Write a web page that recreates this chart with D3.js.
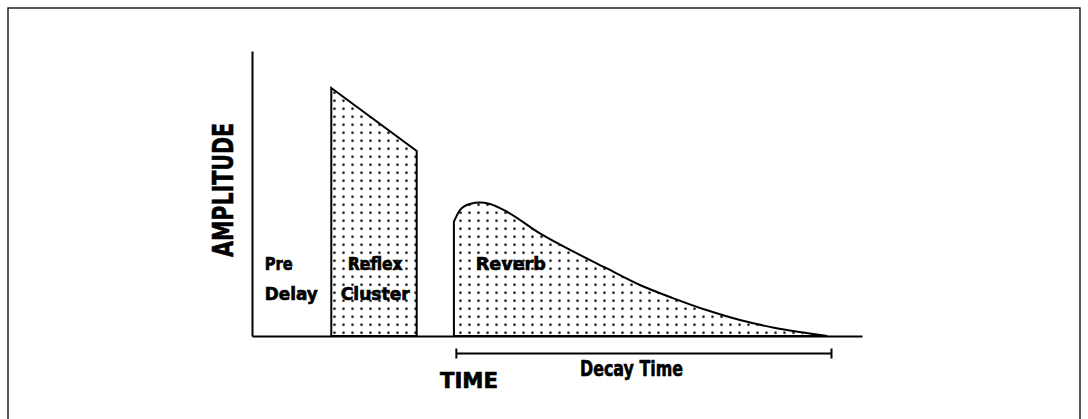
<!DOCTYPE html>
<html>
<head>
<meta charset="utf-8">
<script src="https://cdn.jsdelivr.net/npm/d3@7"></script>
<style>
	body{margin:0;background:#fff}
	text{font-family:"Liberation Sans Narrow","DejaVu Sans Condensed",sans-serif;font-weight:900;fill:#000;stroke:#000;stroke-width:0.6}
</style>
</head>
<body>
<svg id="chart" width="1088" height="419"></svg>
<script>
// time and amplitude both in 0..100 units
const reflexTime = [13, 27]
const reflexAmp = [87, 64.9]
const reverbTime = [33.1, 34.1, 35.7, 37.4, 39.0, 41.8, 47.2, 52.7, 58.1, 63.6, 69.0, 74.5, 80.0, 85.4, 89.8, 94.3]
const reverbAmp = [40.1, 44.2, 46.3, 46.8, 46.3, 43.6, 36.0, 29.6, 23.8, 17.9, 13.3, 9.1, 5.6, 3.0, 1.4, 0]
const decayRange = [33.5, 95]
const axisLabels = {x: "TIME", y: "AMPLITUDE"}
const regionLabels = [
	{lines: ["Pre", "Delay"], t: 2.1, anchor: "start", widths: [28, 53]},
	{lines: ["Reflex", "Cluster"], t: 20.2, anchor: "middle", widths: [55, 69]},
	{lines: ["Reverb"], t: 36.7, anchor: "start", widths: [70]}
]
const decayLabel = "Decay Time"

let svg = d3.select("#chart")

// frame
svg.append("rect")
	.attr("x", 8).attr("y", 8)
	.attr("width", 1072).attr("height", 440)
	.attr("fill", "none")
	.attr("stroke", "#222")
	.attr("stroke-width", 1.5)

let x = d3.scaleLinear().domain([0, 100]).range([252, 862])
let y = d3.scaleLinear().domain([0, 100]).range([336, 51])

// dotted fill
let pat = svg.append("defs").append("pattern")
	.attr("id", "dots")
	.attr("patternUnits", "userSpaceOnUse")
	.attr("x", 330).attr("y", 152.7)
	.attr("width", 9).attr("height", 8)
pat.append("circle")
	.attr("cx", 4.5).attr("cy", 4)
	.attr("r", 1.35)
	.attr("fill", "#111")

let area = d3.area()
	.x(d=>x(d[0]))
	.y0(y(0))
	.y1(d=>y(d[1]))

svg.append("path")
	.datum(d3.zip(reflexTime, reflexAmp))
	.attr("d", area.curve(d3.curveLinear))
	.attr("fill", "url(#dots)")
	.attr("stroke", "#000")
	.attr("stroke-width", 2)

svg.append("path")
	.datum(d3.zip(reverbTime, reverbAmp))
	.attr("d", area.curve(d3.curveMonotoneX))
	.attr("fill", "url(#dots)")
	.attr("stroke", "#000")
	.attr("stroke-width", 2)

// axes: plain lines, no ticks
svg.append("g")
	.attr("transform", `translate(0,${y(0)})`)
	.call(d3.axisBottom(x).ticks(0).tickSizeOuter(0))
	.call(g=>g.select(".domain").attr("stroke-width", 2))
svg.append("g")
	.attr("transform", `translate(${x(0)},0)`)
	.call(d3.axisLeft(y).ticks(0).tickSizeOuter(0))
	.call(g=>g.select(".domain").attr("stroke-width", 2))

// axis titles
svg.append("text")
	.attr("transform", "translate(233,257) rotate(-90)")
	.attr("font-size", 29)
	.attr("textLength", 134)
	.attr("lengthAdjust", "spacingAndGlyphs")
	.text(axisLabels.y)
svg.append("text")
	.attr("x", 440).attr("y", 388)
	.attr("font-size", 21)
	.attr("textLength", 58)
	.attr("lengthAdjust", "spacingAndGlyphs")
	.text(axisLabels.x)

// region labels
regionLabels.forEach(r=>{
	r.lines.forEach((s, i)=>{
		svg.append("text")
			.attr("x", x(r.t)).attr("y", 270 + i*30)
			.attr("text-anchor", r.anchor)
			.attr("font-size", 18)
			.attr("textLength", r.widths[i])
			.attr("lengthAdjust", "spacingAndGlyphs")
			.text(s)
	})
})

// decay bracket
let by = 353.5
svg.append("line")
	.attr("x1", x(decayRange[0])).attr("x2", x(decayRange[1]))
	.attr("y1", by).attr("y2", by)
	.attr("stroke", "#000").attr("stroke-width", 2)
decayRange.forEach(t=>{
	svg.append("line")
		.attr("x1", x(t)).attr("x2", x(t))
		.attr("y1", by-5).attr("y2", by+5)
		.attr("stroke", "#000").attr("stroke-width", 2)
})
svg.append("text")
	.attr("x", 580).attr("y", 376)
	.attr("font-size", 22)
	.attr("textLength", 103)
	.attr("lengthAdjust", "spacingAndGlyphs")
	.text(decayLabel)
</script>
</body>
</html>
